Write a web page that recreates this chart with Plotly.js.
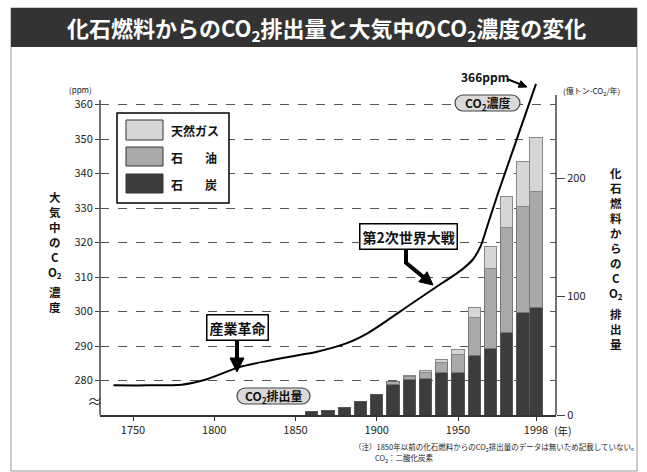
<!DOCTYPE html>
<html>
<head>
<meta charset="utf-8">
<script src="https://cdn.plot.ly/plotly-3.0.1.min.js"></script>
<style>html,body{margin:0;padding:0;background:#fff;}#chart{width:647px;height:472px;}</style>
</head>
<body>
<div id="chart"></div>
<script>
// ---- data ----
const barYears = [1860,1870,1880,1890,1900,1910,1920,1930,1940,1950,1960,1970,1980,1990,1998];
const coal = [2.7,4.1,6.6,11.1,17.1,25.8,30,30.8,35.6,35.9,50.5,56,69.9,86.8,90.5];
const oil  = [0,0,0,0,0,2.4,2.8,5.5,9,15.2,31.6,67.5,88.2,89,98.5];
const gas  = [0,0,0,0,0,0,0.6,1.7,1.9,4.2,8.4,19.1,26.7,38.6,45.1];
const lineYears = [1738,1760,1780,1795,1815,1832,1850,1862,1882,1894,1902,1920,1935,1952,1959,1964,1968,1974,1984,1998];
const ppm = [278.6,278.6,278.8,280.3,283.8,285.6,287.2,288.2,290.9,293.6,296.0,301.8,306.6,312.0,315,319,324.7,333.4,347,366];
const xTicks = [1750,1800,1850,1900,1950,1998];
const ppmTicks = [280,290,300,310,320,330,340,350,360];
const emitTicks = [0,100,200];
const seriesNames = ['石炭','石油','天然ガス'];
const legendLabels = [['天然ガス'],['石','油'],['石','炭']];

const FONT = "'Noto Sans CJK JP', 'Noto Sans', sans-serif";
const cCoal = '#3d3d3d', cOil = '#a9a9a9', cGas = '#d6d6d6';

// pixel -> paper helpers
const L = 100, R = 556, T = 70, B = 415;
const px = x => (x - L) / (R - L);
const py = y => (B - y) / (B - T);

const nz = a => a.map(v => v === 0 ? null : v);
const barCommon = {type:'bar', x: barYears, width: 7.5, yaxis:'y2', hoverinfo:'skip'};

const traces = [
  {type:'scatter', mode:'lines', x: lineYears, y: ppm, yaxis:'y', name:'CO2濃度',
   line:{color:'#000', width:2, shape:'spline', smoothing:0.7}},
  Object.assign({}, barCommon, {name:seriesNames[0], y: nz(coal), marker:{color:cCoal, line:{color:'#555', width:1}}}),
  Object.assign({}, barCommon, {name:seriesNames[1], y: nz(oil), marker:{color:cOil, line:{color:'#777', width:1}}}),
  Object.assign({}, barCommon, {name:seriesNames[2], y: nz(gas), marker:{color:cGas, line:{color:'#888', width:1}}})
];

const shapes = [];
const annotations = [];
function rectPx(x0,y0,x1,y1,fill,lineColor,lw){
  shapes.push({type:'rect', xref:'paper', yref:'paper', x0:px(x0), x1:px(x1), y0:py(y1), y1:py(y0),
    fillcolor:fill, line:{color:lineColor||'rgba(0,0,0,0)', width: lw||0}, layer:'above'});
}
function linePx(x0,y0,x1,y1,color,w){
  shapes.push({type:'line', xref:'paper', yref:'paper', x0:px(x0), x1:px(x1), y0:py(y0), y1:py(y1),
    line:{color:color, width:w}, layer:'above'});
}
const P = (x,y) => px(x)+','+py(y);
function pillPx(x0,y0,x1,y1,fill,lineColor){
  const r = (y1-y0)/2, k = 0.55*r;
  const d = 'M'+P(x0+r,y0)+' L'+P(x1-r,y0)+
    ' C'+P(x1-r+k,y0)+' '+P(x1,y0+r-k)+' '+P(x1,y0+r)+
    ' C'+P(x1,y0+r+k)+' '+P(x1-r+k,y1)+' '+P(x1-r,y1)+
    ' L'+P(x0+r,y1)+
    ' C'+P(x0+r-k,y1)+' '+P(x0,y0+r+k)+' '+P(x0,y0+r)+
    ' C'+P(x0,y0+r-k)+' '+P(x0+r-k,y0)+' '+P(x0+r,y0)+' Z';
  shapes.push({type:'path', xref:'paper', yref:'paper', path:d, fillcolor:fill, line:{color:lineColor, width:1.2}, layer:'above'});
}
// arrow drawn as shaft + filled triangular head (pixel coords)
function arrowPx(tx,ty,fx,fy,w,hl,hw){
  const dx = tx-fx, dy = ty-fy, len = Math.hypot(dx,dy), ux = dx/len, uy = dy/len;
  const bx = tx-ux*hl, by = ty-uy*hl;
  linePx(fx,fy,bx+ux*1,by+uy*1,'#000',w);
  const nx = -uy, ny = ux;
  const d = 'M'+P(tx,ty)+' L'+P(bx+nx*hw/2,by+ny*hw/2)+' L'+P(bx-nx*hw/2,by-ny*hw/2)+' Z';
  shapes.push({type:'path', xref:'paper', yref:'paper', path:d, fillcolor:'#000', line:{color:'#000', width:1}, layer:'above'});
}
function textPx(x,y,text,size,opts){
  annotations.push(Object.assign({xref:'paper', yref:'paper', x:px(x), y:py(y), text:text, showarrow:false,
    xanchor:'center', yanchor:'middle', font:{family:FONT, size:size, color:'#111'}}, opts||{}));
}

// frame and title bar
shapes.push({type:'rect', xref:'paper', yref:'paper', x0:px(11), x1:px(637), y0:py(471), y1:py(8),
  line:{color:'#999', width:1}, fillcolor:'rgba(0,0,0,0)', layer:'below'});
rectPx(11,8,637,47,'#333');
textPx(326,28,'化石燃料からのCO<sub>2</sub>排出量と大気中のCO<sub>2</sub>濃度の変化',22,{font:{family:FONT,size:22,color:'#fff',weight:'bold'}});

// axis lines
linePx(100,415,100,100,'#444',1.5);
linePx(556,415,556,95,'#444',1.5);
textPx(95,400,'≈',16,{font:{family:FONT,size:16,color:'#333'}});
textPx(80,89,'(ppm)',8);
textPx(591,91,'(億トン-CO<sub>2</sub>/年)',8);
textPx(552,430,'(年)',10.5,{xanchor:'left', font:{family:FONT,size:10.5,color:'#222'}});

// vertical axis titles (one multi-line text per group)
const tf = s => ({family:FONT,size:s,color:'#111',weight:'bold'});
textPx(55,235,'大<br>気<br>中<br>の<br>C<br>O<sub>2</sub>',11.5,{font:tf(11.5), align:'center'});
textPx(55,299,'濃<br>度',11.5,{font:tf(11.5), align:'center'});
textPx(616,233,'化<br>石<br>燃<br>料<br>か<br>ら<br>の<br>C<br>O<sub>2</sub>',11.5,{font:tf(11.5), align:'center'});
textPx(616,328.5,'排<br>出<br>量',11.5,{font:tf(11.5), align:'center'});

// legend (manual)
rectPx(117,113,229,203,'#fff','#000',1.5);
rectPx(126,120,163,140,cGas,'#333',1);
rectPx(126,147,163,166,cOil,'#333',1);
rectPx(126,174,163,193,cCoal,'#333',1);
const lf = {family:FONT,size:12,color:'#111',weight:'bold'};
textPx(169,130,legendLabels[0][0],12,{xanchor:'left',font:lf});
textPx(169,157,legendLabels[1][0],12,{xanchor:'left',font:lf});
textPx(203,157,legendLabels[1][1],12,{xanchor:'left',font:lf});
textPx(169,184,legendLabels[2][0],12,{xanchor:'left',font:lf});
textPx(203,184,legendLabels[2][1],12,{xanchor:'left',font:lf});

// callouts
const bf = s => ({family:FONT,size:s,color:'#111',weight:'bold'});
textPx(408.5,236,'第2次世界大戦',14,{font:bf(14), bgcolor:'#fff', bordercolor:'#000', borderwidth:1.5, borderpad:2});
linePx(406,248.5,406,263,'#000',4);
arrowPx(433,285,405,262,4,13,13);
textPx(237,327,'産業革命',14,{font:bf(14), bgcolor:'#fff', bordercolor:'#000', borderwidth:1.5, borderpad:2});
arrowPx(237,372,237,340,4,14,14);
pillPx(237,388,310,404,'#d9d9d9','#444');
textPx(273.5,396,'CO<sub>2</sub>排出量',12,{font:bf(12)});
pillPx(455,95,520,111,'#d9d9d9','#444');
textPx(487.5,103,'CO<sub>2</sub>濃度',12,{font:bf(12)});
textPx(485,77,'366ppm',12,{font:bf(12)});
arrowPx(527,87,507,79,2,8,7);

// footnote
const ff = {family:FONT,size:7.5,color:'#222'};
textPx(352,448,'（注）1850年以前の化石燃料からのCO<sub>2</sub>排出量のデータは無いため記載していない。',7.5,{xanchor:'left',font:ff});
textPx(373,458,'CO<sub>2</sub>：二酸化炭素',7.5,{xanchor:'left',font:ff});

const layout = {
  width:647, height:472,
  margin:{l:L, r:647-R, t:T, b:472-B, pad:0},
  paper_bgcolor:'#fff', plot_bgcolor:'rgba(0,0,0,0)',
  font:{family:FONT, size:11, color:'#222'},
  showlegend:false, barmode:'stack',
  xaxis:{range:[1750-33/1.625, 1750+423/1.625], tickvals:xTicks, ticktext:xTicks.map(String),
    ticks:'outside', ticklen:4, tickcolor:'#333', showline:true, linecolor:'#333', linewidth:1.5,
    showgrid:false, zeroline:false, tickfont:{family:FONT,size:11,color:'#222'}},
  yaxis:{range:[270, 270+(B-T)/3.45], tickvals:ppmTicks, ticks:'outside', ticklen:4, tickcolor:'#444',
    showgrid:true, gridcolor:'#555', griddash:'dash', gridwidth:1, zeroline:false, showline:false,
    tickfont:{family:FONT,size:11,color:'#222'}},
  yaxis2:{overlaying:'y', side:'right', anchor:'x', range:[0,(B-T)/1.184], tickvals:emitTicks,
    ticks:'outside', ticklen:8, tickcolor:'#444', showgrid:false, zeroline:false, showline:false,
    tickfont:{family:FONT,size:11,color:'#222'}},
  shapes:shapes, annotations:annotations
};
Plotly.newPlot('chart', traces, layout, {displayModeBar:false, staticPlot:true});
</script>
</body>
</html>
